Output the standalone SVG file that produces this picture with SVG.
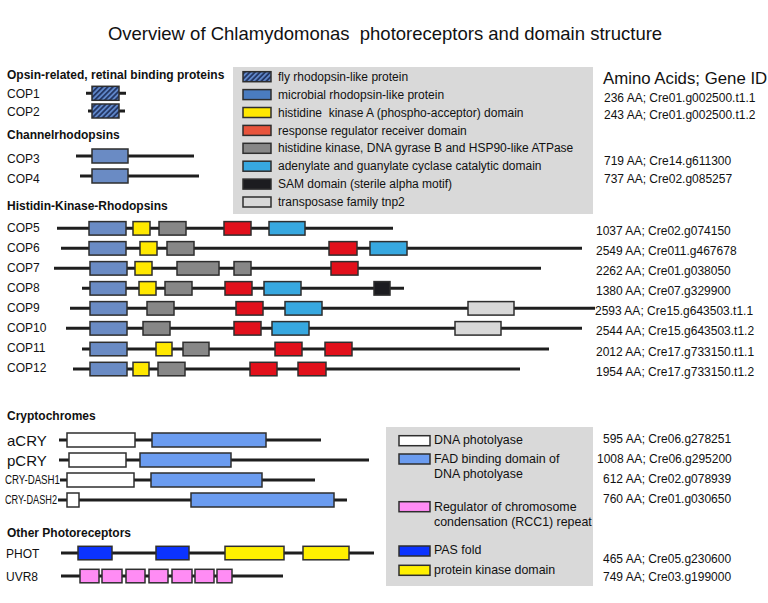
<svg xmlns="http://www.w3.org/2000/svg" width="768" height="603" viewBox="0 0 768 603">
<style>
text{font-family:"Liberation Sans",Arial,Helvetica,sans-serif;fill:#111}
.t{font-size:18.5px}
.h{font-size:12px;font-weight:bold}
.l{font-size:12px}
.lc{font-size:15px}
.g{font-size:12px}
.lg{font-size:12px}
.lg2{font-size:12.4px}
.bb{stroke:#1e1e1e;stroke-width:3;fill:none}
rect.d{stroke:#2e2e2e;stroke-width:1.5}
.rho{fill:#6a8bc4}
.hat{fill:url(#hatch)}
.hk{fill:#ffe800}
.rr{fill:#e2101b}
.rrl{fill:#e8543c}
.atp{fill:#878787}
.cyc{fill:#37a8e0}
.sam{fill:#1c1c20}
.tnp{fill:#d8d8d8}
.phl{fill:#ffffff}
.fad{fill:#6b9cf0}
.pas{fill:#0b33ff}
.pk{fill:#fff000}
.rcc{fill:#ff8cf4}
.box{fill:#d9d9d9}
</style>
<defs>
<pattern id="hatch" patternUnits="userSpaceOnUse" width="3.6" height="3.6" patternTransform="rotate(45)">
<rect width="3.6" height="3.6" fill="#5f86c8"/>
<line x1="0.9" y1="0" x2="0.9" y2="3.6" stroke="#1c2d58" stroke-width="1.6"/>
</pattern>
</defs>
<rect width="768" height="603" fill="#ffffff"/>
<text class="t" x="385" y="40" text-anchor="middle" xml:space="preserve">Overview of Chlamydomonas  photoreceptors and domain structure</text>

<g id="legend-top">
<rect class="box" x="233" y="67" width="360" height="147"/>
<rect class="d hat" x="243" y="71.7" width="28" height="10"/>
<text class="lg" x="278" y="80.8">fly rhodopsin-like protein</text>
<rect class="d" x="243" y="89.6" width="28" height="10" fill="#4a7cc0"/>
<text class="lg" x="278" y="98.7">microbial rhodopsin-like protein</text>
<rect class="d hk" x="243" y="107.5" width="28" height="10"/>
<text class="lg" x="278" y="116.6" xml:space="preserve">histidine  kinase A (phospho-acceptor) domain</text>
<rect class="d rrl" x="243" y="125.4" width="28" height="10"/>
<text class="lg" x="278" y="134.5">response regulator receiver domain</text>
<rect class="d atp" x="243" y="143.3" width="28" height="10"/>
<text class="lg" x="278" y="152.4">histidine kinase, DNA gyrase B and HSP90-like ATPase</text>
<rect class="d cyc" x="243" y="161.2" width="28" height="10"/>
<text class="lg" x="278" y="170.3">adenylate and guanylate cyclase catalytic domain</text>
<rect class="d sam" x="243" y="179.1" width="28" height="10"/>
<text class="lg" x="278" y="188.2">SAM domain (sterile alpha motif)</text>
<rect class="d tnp" x="243" y="197" width="28" height="10"/>
<text class="lg" x="278" y="206.1">transposase family tnp2</text>
</g>

<g id="legend-bottom">
<rect class="box" x="386" y="427" width="207" height="159"/>
<rect class="d phl" x="399" y="435.7" width="31" height="10"/>
<text class="lg2" x="434" y="444">DNA photolyase</text>
<rect class="d fad" x="399" y="454" width="31" height="10"/>
<text class="lg2" x="434" y="462.7">FAD binding domain of</text>
<text class="lg2" x="434" y="478.3">DNA photolyase</text>
<rect class="d rcc" x="399" y="501.7" width="31" height="10"/>
<text class="lg2" x="434" y="511">Regulator of chromosome</text>
<text class="lg2" x="434" y="526">condensation (RCC1) repeat</text>
<rect class="d pas" x="399" y="546" width="31" height="10"/>
<text class="lg2" x="434" y="554.3">PAS fold</text>
<rect class="d pk" x="399" y="565.3" width="31" height="10"/>
<text class="lg2" x="434" y="574.3">protein kinase domain</text>
</g>

<g id="headers">
<text class="h" x="7" y="78.5">Opsin-related, retinal binding proteins</text>
<text class="h" x="7" y="139.3">Channelrhodopsins</text>
<text class="h" x="7" y="210.3">Histidin-Kinase-Rhodopsins</text>
<text class="h" x="7" y="420.3">Cryptochromes</text>
<text class="h" x="7" y="537">Other Photoreceptors</text>
<text style="font-size:16.8px" x="603" y="84">Amino Acids; Gene ID</text>
</g>

<g id="connectors"></g>

<g id="COP1">
<text class="l" x="7" y="98">COP1</text>
<line class="bb" x1="86" y1="93.3" x2="126" y2="93.3"/>
<rect class="d hat" x="92" y="86.3" width="27" height="14"/>
<text class="g" x="604" y="101.7">236 AA; Cre01.g002500.t1.1</text>
</g>
<g id="COP2">
<text class="l" x="7" y="116">COP2</text>
<line class="bb" x1="88" y1="111" x2="125" y2="111"/>
<rect class="d hat" x="92" y="104" width="27" height="14"/>
<text class="g" x="604" y="119.3">243 AA; Cre01.g002500.t1.2</text>
</g>
<g id="COP3">
<text class="l" x="7" y="163">COP3</text>
<line class="bb" x1="76" y1="156" x2="194" y2="156"/>
<rect class="d rho" x="92" y="149" width="36" height="14"/>
<text class="g" x="604" y="165">719 AA; Cre14.g611300</text>
</g>
<g id="COP4">
<text class="l" x="7" y="182.5">COP4</text>
<line class="bb" x1="80" y1="176" x2="199" y2="176"/>
<rect class="d rho" x="92" y="169" width="36" height="14"/>
<text class="g" x="604" y="182.5">737 AA; Cre02.g085257</text>
</g>

<g id="COP5">
<text class="l" x="7" y="231.8">COP5</text>
<line class="bb" x1="57" y1="228.3" x2="393" y2="228.3"/>
<rect class="d rho" x="89" y="221.6" width="37" height="13.5"/>
<rect class="d hk" x="133" y="221.6" width="17" height="13.5"/>
<rect class="d atp" x="159" y="221.6" width="27" height="13.5"/>
<rect class="d rr" x="224" y="221.6" width="27" height="13.5"/>
<rect class="d cyc" x="269" y="221.6" width="36" height="13.5"/>
<text class="g" x="596" y="235">1037 AA; Cre02.g074150</text>
</g>
<g id="COP6">
<text class="l" x="7" y="251.8">COP6</text>
<line class="bb" x1="61" y1="248.3" x2="582" y2="248.3"/>
<rect class="d rho" x="89" y="241.6" width="37" height="13.5"/>
<rect class="d hk" x="140" y="241.6" width="17" height="13.5"/>
<rect class="d atp" x="167" y="241.6" width="27" height="13.5"/>
<rect class="d rr" x="329" y="241.6" width="28" height="13.5"/>
<rect class="d cyc" x="370" y="241.6" width="37" height="13.5"/>
<text class="g" x="596" y="255">2549 AA; Cre011.g467678</text>
</g>
<g id="COP7">
<text class="l" x="7" y="271.8">COP7</text>
<line class="bb" x1="54" y1="268.3" x2="541" y2="268.3"/>
<rect class="d rho" x="90" y="261.6" width="37" height="13.5"/>
<rect class="d hk" x="135" y="261.6" width="17" height="13.5"/>
<rect class="d atp" x="177" y="261.6" width="42" height="13.5"/>
<rect class="d atp" x="234" y="261.6" width="17" height="13.5"/>
<rect class="d rr" x="331" y="261.6" width="27" height="13.5"/>
<text class="g" x="596" y="275">2262 AA; Cre01.g038050</text>
</g>
<g id="COP8">
<text class="l" x="7" y="291.8">COP8</text>
<line class="bb" x1="82" y1="288.3" x2="404" y2="288.3"/>
<rect class="d rho" x="90" y="281.6" width="36" height="13.5"/>
<rect class="d hk" x="139" y="281.6" width="17" height="13.5"/>
<rect class="d atp" x="165" y="281.6" width="27" height="13.5"/>
<rect class="d rr" x="225" y="281.6" width="27" height="13.5"/>
<rect class="d cyc" x="264" y="281.6" width="37" height="13.5"/>
<rect class="d sam" x="374" y="281.6" width="16" height="13.5"/>
<text class="g" x="596" y="295">1380 AA; Cre07.g329900</text>
</g>
<g id="COP9">
<text class="l" x="7" y="311.8">COP9</text>
<line class="bb" x1="70" y1="308.3" x2="595" y2="308.3"/>
<rect class="d rho" x="90" y="301.6" width="37" height="13.5"/>
<rect class="d atp" x="147" y="301.6" width="27" height="13.5"/>
<rect class="d rr" x="236" y="301.6" width="27" height="13.5"/>
<rect class="d cyc" x="285" y="301.6" width="37" height="13.5"/>
<rect class="d tnp" x="468" y="301.6" width="46" height="13.5"/>
<text class="g" x="595" y="315">2593 AA; Cre15.g643503.t1.1</text>
</g>
<g id="COP10">
<text class="l" x="7" y="331.8">COP10</text>
<line class="bb" x1="66" y1="328.3" x2="582" y2="328.3"/>
<rect class="d rho" x="90" y="321.6" width="37" height="13.5"/>
<rect class="d atp" x="143" y="321.6" width="27" height="13.5"/>
<rect class="d rr" x="234" y="321.6" width="27" height="13.5"/>
<rect class="d cyc" x="272" y="321.6" width="37" height="13.5"/>
<rect class="d tnp" x="455" y="321.6" width="46" height="13.5"/>
<text class="g" x="596" y="335">2544 AA; Cre15.g643503.t1.2</text>
</g>
<g id="COP11">
<text class="l" x="7" y="352.3">COP11</text>
<line class="bb" x1="82" y1="349" x2="549" y2="349"/>
<rect class="d rho" x="90" y="342.3" width="37" height="13.5"/>
<rect class="d hk" x="156" y="342.3" width="16" height="13.5"/>
<rect class="d atp" x="183" y="342.3" width="26" height="13.5"/>
<rect class="d rr" x="275" y="342.3" width="27" height="13.5"/>
<rect class="d rr" x="325" y="342.3" width="27" height="13.5"/>
<text class="g" x="596" y="355.7">2012 AA; Cre17.g733150.t1.1</text>
</g>
<g id="COP12">
<text class="l" x="7" y="372.3">COP12</text>
<line class="bb" x1="73" y1="369" x2="520" y2="369"/>
<rect class="d rho" x="90" y="362.3" width="37" height="13.5"/>
<rect class="d hk" x="133" y="362.3" width="16" height="13.5"/>
<rect class="d atp" x="158" y="362.3" width="27" height="13.5"/>
<rect class="d rr" x="250" y="362.3" width="27" height="13.5"/>
<rect class="d rr" x="298" y="362.3" width="28" height="13.5"/>
<text class="g" x="596" y="376">1954 AA; Cre17.g733150.t1.2</text>
</g>

<g id="aCRY">
<text class="lc" x="7" y="446">aCRY</text>
<line class="bb" x1="59" y1="440" x2="321" y2="440"/>
<rect class="d phl" x="67" y="433" width="68" height="14"/>
<rect class="d fad" x="152" y="433" width="114" height="14"/>
<text class="g" x="603" y="443.3">595 AA; Cre06.g278251</text>
</g>
<g id="pCRY">
<text class="lc" x="7" y="465.5">pCRY</text>
<line class="bb" x1="59" y1="460" x2="369" y2="460"/>
<rect class="d phl" x="69" y="453" width="57" height="14"/>
<rect class="d fad" x="140" y="453" width="91" height="14"/>
<text class="g" x="597" y="463.3">1008 AA; Cre06.g295200</text>
</g>
<g id="CRY-DASH1">
<text class="l" x="5" y="484.2" textLength="55" lengthAdjust="spacingAndGlyphs">CRY-DASH1</text>
<line class="bb" x1="60" y1="480" x2="315" y2="480"/>
<rect class="d phl" x="67" y="473" width="67" height="14"/>
<rect class="d fad" x="151" y="473" width="111" height="14"/>
<text class="g" x="603" y="483.3">612 AA; Cre02.g078939</text>
</g>
<g id="CRY-DASH2">
<text class="l" x="5" y="504.2" textLength="52" lengthAdjust="spacingAndGlyphs">CRY-DASH2</text>
<line class="bb" x1="58" y1="500" x2="347" y2="500"/>
<rect class="d phl" x="67" y="493" width="12" height="14"/>
<rect class="d fad" x="191" y="493" width="143" height="14"/>
<text class="g" x="603" y="502.7">760 AA; Cre01.g030650</text>
</g>

<g id="PHOT">
<text class="l" x="6" y="557.7">PHOT</text>
<line class="bb" x1="61" y1="553" x2="374" y2="553"/>
<rect class="d pas" x="78" y="546.3" width="34" height="13.5"/>
<rect class="d pas" x="156" y="546.3" width="33" height="13.5"/>
<rect class="d pk" x="225" y="546.3" width="59" height="13.5"/>
<rect class="d pk" x="303" y="546.3" width="46" height="13.5"/>
<text class="g" x="603" y="562.7">465 AA; Cre05.g230600</text>
</g>
<g id="UVR8">
<text class="l" x="6" y="581">UVR8</text>
<line class="bb" x1="61" y1="576" x2="283" y2="576"/>
<rect class="d rcc" x="80" y="569.3" width="19" height="13.5"/>
<rect class="d rcc" x="102" y="569.3" width="20" height="13.5"/>
<rect class="d rcc" x="126" y="569.3" width="19" height="13.5"/>
<rect class="d rcc" x="149" y="569.3" width="19" height="13.5"/>
<rect class="d rcc" x="172" y="569.3" width="20" height="13.5"/>
<rect class="d rcc" x="195" y="569.3" width="19" height="13.5"/>
<rect class="d rcc" x="217" y="569.3" width="15" height="13.5"/>
<text class="g" x="603" y="581">749 AA; Cre03.g199000</text>
</g>
</svg>
